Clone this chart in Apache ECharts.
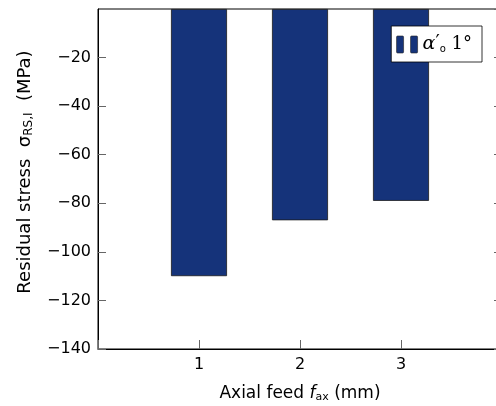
<!DOCTYPE html>
<html>
<head>
<meta charset="utf-8">
<script src="https://cdn.jsdelivr.net/npm/echarts@6/dist/echarts.min.js"></script>
<style>
  html, body { margin: 0; padding: 0; background: #fff; }
  #main { width: 496px; height: 406px; }
</style>
</head>
<body>
<div id="main"></div>
<script>
// 数据
var feeds = [1, 2, 3];
var stress = [-110, -87, -79];
var yTicks = [-20, -40, -60, -80, -100, -120, -140];

var FONT = 'DejaVu Sans';
var barColor = '#15337a';

var myChart = echarts.init(document.getElementById('main'));

var barData = [];
for (var i = 0; i < feeds.length; i++) {
    barData.push([feeds[i], stress[i]]);
}

// 两根小柱子的图例图标
var legendIcon = 'path://M1,0 L6,0 Q7,0 7,1 L7,16 Q7,17 6,17 L1,17 Q0,17 0,16 L0,1 Q0,0 1,0 Z ' +
                 'M15,0 L20,0 Q21,0 21,1 L21,16 Q21,17 20,17 L15,17 Q14,17 14,16 L14,1 Q14,0 15,0 Z';

var option = {
    backgroundColor: '#fff',
    animation: false,
    grid: {
        left: 98,
        top: 9,
        right: -6,
        bottom: 57,
        outerBoundsMode: 'none',
        show: true,
        borderColor: '#000',
        borderWidth: 1
    },
    legend: {
        show: true,
        right: 14,
        top: 26,
        padding: [8, 10, 8, 5],
        borderColor: '#000',
        borderWidth: 0.8,
        backgroundColor: '#fff',
        itemWidth: 21,
        itemHeight: 17,
        itemGap: 4,
        icon: legendIcon,
        data: [{ name: 'a1', itemStyle: { color: barColor, borderColor: '#222', borderWidth: 0.6 } }],
        formatter: function () {
            return '{g|α}{p|\u2032}{o|o}{t| 1°}';
        },
        textStyle: {
            rich: {
                g: { fontFamily: 'DejaVu Serif', fontStyle: 'italic', fontSize: 19, color: '#000' },
                p: { fontFamily: 'DejaVu Sans', fontSize: 19, color: '#000', padding: [0, 0, 2, 0] },
                o: { fontFamily: 'DejaVu Sans', fontSize: 10, color: '#000', padding: [9, 0, 0, 0] },
                t: { fontFamily: 'DejaVu Serif', fontSize: 18, color: '#000' }
            }
        }
    },
    xAxis: [{
        type: 'value',
        position: 'bottom',
        min: 0,
        max: 4,
        interval: 1,
        splitLine: { show: false },
        axisLine: { show: true, onZero: false, lineStyle: { color: '#000', width: 1 } },
        axisTick: { show: true, inside: true, length: 9, lineStyle: { color: '#666' } },
        axisLabel: {
            color: '#000',
            fontFamily: FONT,
            fontSize: 16,
            margin: 8,
            formatter: function (v) {
                return (v === 0 || v === 4) ? '' : String(v);
            }
        },
        name: '{a|Axial feed }{f|f}{s|ax}{a| (mm)}',
        nameLocation: 'middle',
        nameGap: 34,
        nameTextStyle: {
            rich: {
                a: { fontFamily: FONT, fontSize: 17, color: '#000', lineHeight: 22 },
                f: { fontFamily: FONT, fontStyle: 'italic', fontSize: 17, color: '#000', lineHeight: 22 },
                s: { fontFamily: FONT, fontSize: 11, color: '#000', padding: [7, 0, 0, 0], lineHeight: 22 }
            }
        }
    }],
    yAxis: [{
        type: 'value',
        position: 'left',
        min: -140,
        max: 0,
        interval: 20,
        splitLine: { show: false },
        axisLine: { show: true, onZero: false, lineStyle: { color: '#000', width: 1 } },
        axisTick: { show: true, inside: true, length: 8, lineStyle: { color: '#666' } },
        axisLabel: {
            color: '#000',
            fontFamily: FONT,
            fontSize: 16,
            margin: 7,
            showMaxLabel: false,
            formatter: function (v) {
                return yTicks.indexOf(v) >= 0 ? '\u2212' + Math.abs(v) : '';
            }
        },
        // 开头留空，让标题整体往上移一点
        name: '{pad|}{a|Residual stress  σ}{s|RS,I}{a|  (MPa)}',
        nameLocation: 'middle',
        nameGap: 62,
        nameRotate: 90,
        nameTextStyle: {
            rich: {
                pad: { width: 14 },
                a: { fontFamily: FONT, fontSize: 18, color: '#000', lineHeight: 22 },
                s: { fontFamily: FONT, fontSize: 12, color: '#000', padding: [7, 0, 0, 0], lineHeight: 22 }
            }
        }
    }, {
        type: 'value',
        position: 'right',
        min: -140,
        max: 0,
        interval: 20,
        splitLine: { show: false },
        axisLine: { show: false, onZero: false },
        axisTick: { show: true, inside: true, length: 8, lineStyle: { color: '#666' } },
        axisLabel: { show: false }
    }],
    series: [{
        name: 'a1',
        type: 'bar',
        xAxisIndex: 0,
        yAxisIndex: 0,
        barWidth: 56,
        data: barData,
        itemStyle: {
            color: barColor,
            borderColor: '#1a1a1a',
            borderWidth: 0.8
        },
        z: 3
    }]
};

myChart.setOption(option);
</script>
</body>
</html>
